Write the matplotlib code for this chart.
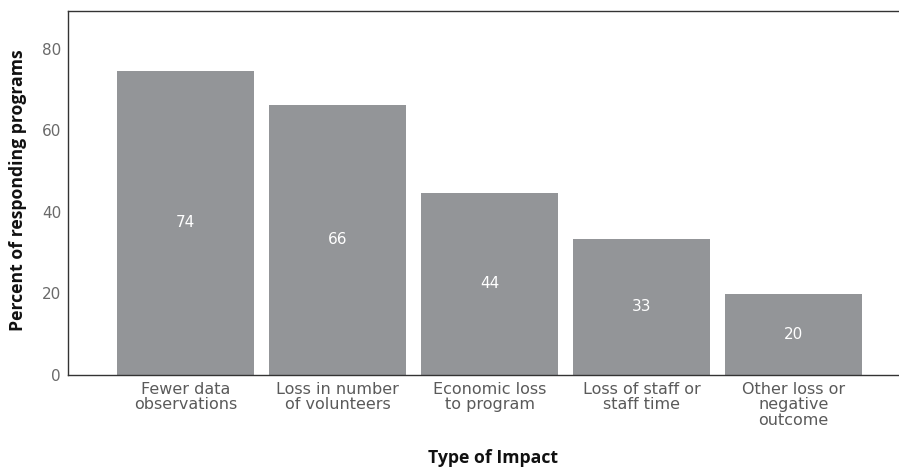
import matplotlib
matplotlib.use("Agg")
import matplotlib.pyplot as plt

categories = ["Fewer data\nobservations", "Loss in number\nof volunteers", "Economic loss\nto program",
              "Loss of staff or\nstaff time", "Other loss or\nnegative\noutcome"]
values = [74.6, 66.3, 44.7, 33.4, 19.9]
labels = ["74", "66", "44", "33", "20"]
yticks = [0, 20, 40, 60, 80]

plt.rcParams['font.family'] = ['DejaVu Sans']

fig = plt.figure(figsize=(8.99, 4.67), dpi=100)
ax = fig.add_axes([68/899, 92/467, 831/899, 364/467])

x = list(range(len(categories)))
bars = ax.bar(x, values, width=0.9, color="#939598")
for xi, v, lab in zip(x, values, labels):
    ax.text(xi, v/2, lab, ha="center", va="center", color="white", fontsize=11)

ax.set_xlim(-0.773, 4.694)
ax.set_ylim(0, 89.3)
ax.set_yticks(yticks)
ax.set_xticks(x)
ax.set_xticklabels(categories, fontsize=11.5, color="#5a5a5a", linespacing=1.04)
ax.tick_params(axis="y", labelsize=11, labelcolor="#6a6a6a", length=0, pad=5)
ax.tick_params(axis="x", length=0, pad=5)
for s in ["left", "top", "bottom"]:
    ax.spines[s].set_color("#333333")
    ax.spines[s].set_linewidth(1.0)
ax.spines["right"].set_visible(False)

fig.text(18/899, (467-190)/467, "Percent of responding programs", rotation=90, ha="center", va="center",
         fontsize=12.7, fontweight="bold", color="#111111", family=["Open Sans", "DejaVu Sans"])
fig.text(493/899, 9/467, "Type of Impact", ha="center", va="center", fontweight="bold",
         color="#111111", family=["Open Sans", "DejaVu Sans"], fontsize=12.7)

fig.savefig("out.png", dpi=100)
